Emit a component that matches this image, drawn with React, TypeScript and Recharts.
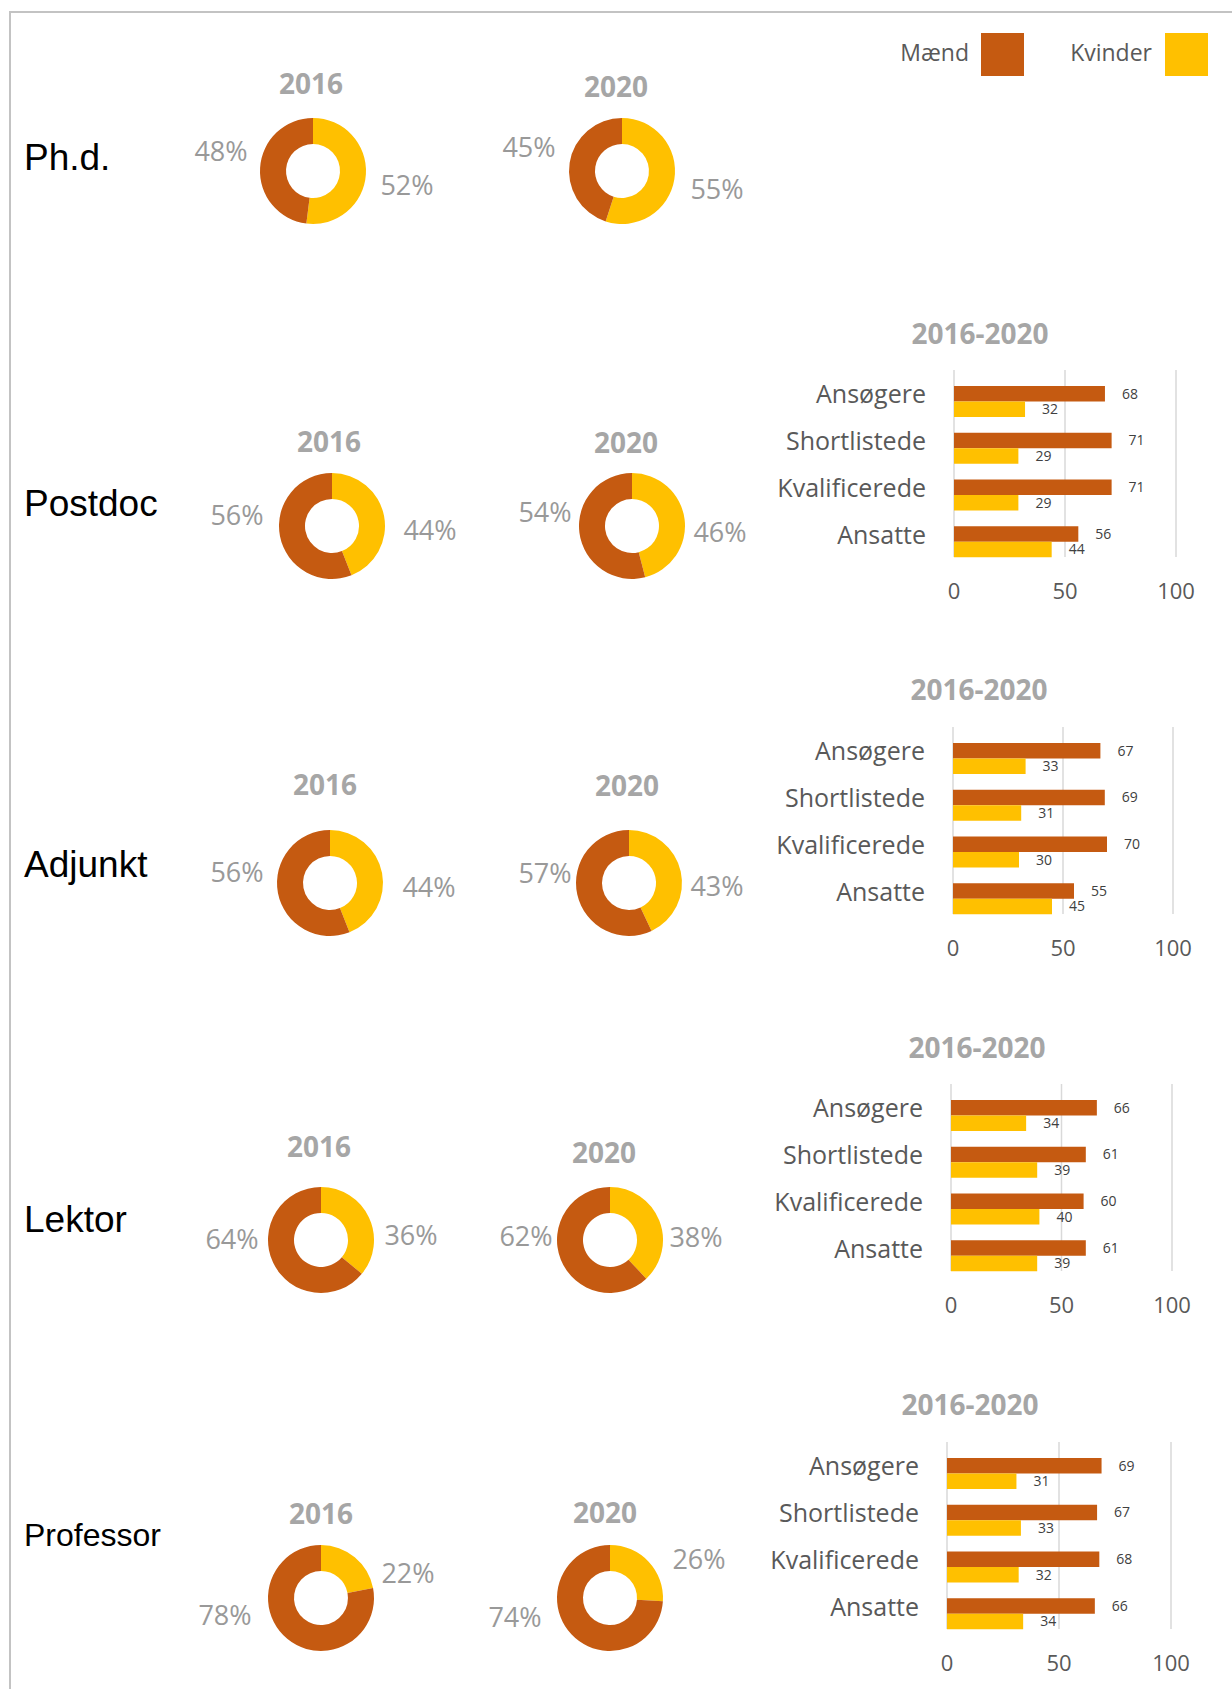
import { PieChart, Pie, Cell, BarChart, Bar, XAxis, YAxis, CartesianGrid, LabelList } from "recharts";

const MEN = "#C55A11";
const WOMEN = "#FFC000";
const FONT = "'Open Sans', 'Noto Sans', sans-serif";

// ---- data ----
const positions = ["Ph.d.", "Postdoc", "Adjunkt", "Lektor", "Professor"];
const years = ["2016", "2020"];
const men2016 = [48, 56, 56, 64, 78];
const women2016 = [52, 44, 44, 36, 22];
const men2020 = [45, 54, 57, 62, 74];
const women2020 = [55, 46, 43, 38, 26];

const stages = ["Ansøgere", "Shortlistede", "Kvalificerede", "Ansatte"];
const postdocMen = [68, 71, 71, 56];
const postdocWomen = [32, 29, 29, 44];
const adjunktMen = [67, 69, 70, 55];
const adjunktWomen = [33, 31, 30, 45];
const lektorMen = [66, 61, 60, 61];
const lektorWomen = [34, 39, 40, 39];
const professorMen = [69, 67, 68, 66];
const professorWomen = [31, 33, 32, 34];
const xTicks = [0, 50, 100];
const periodTitle = "2016-2020";

// ---- layout (pixel positions on the page) ----
const rowLabelLayout = [
  { y: 157, size: 37 },
  { y: 503, size: 37 },
  { y: 864, size: 37 },
  { y: 1219, size: 37 },
  { y: 1535, size: 32 },
];

const donutLayout = [
  [
    { cx: 312.5, cy: 171, tx: 311, ty: 83, men: [-92, -21], women: [94, 13] },
    { cx: 621.5, cy: 171, tx: 616, ty: 86, men: [-93, -25], women: [95, 17] },
  ],
  [
    { cx: 331.5, cy: 526, tx: 329, ty: 441, men: [-95, -12], women: [98, 3] },
    { cx: 632, cy: 526, tx: 626, ty: 442, men: [-87, -15], women: [88, 5] },
  ],
  [
    { cx: 329.5, cy: 883, tx: 325, ty: 784, men: [-93, -12], women: [99, 3] },
    { cx: 629, cy: 883, tx: 627, ty: 785, men: [-84, -11], women: [88, 2] },
  ],
  [
    { cx: 321, cy: 1240, tx: 319, ty: 1146, men: [-89, -2], women: [90, -6] },
    { cx: 610, cy: 1240, tx: 604, ty: 1152, men: [-84, -5], women: [86, -4] },
  ],
  [
    { cx: 320.5, cy: 1598, tx: 321, ty: 1513, men: [-96, 16], women: [87, -26] },
    { cx: 610, cy: 1598, tx: 605, ty: 1512, men: [-95, 18], women: [89, -40] },
  ],
];

const barLayout = [
  { gridTop: 370, x0: 954, x100: 1176, tx: 980, ty: 333 },
  { gridTop: 727, x0: 953, x100: 1173, tx: 979, ty: 689 },
  { gridTop: 1084, x0: 951, x100: 1172, tx: 977, ty: 1047 },
  { gridTop: 1442, x0: 947, x100: 1171, tx: 970, ty: 1404 },
];

const barSeries = [
  { men: postdocMen, women: postdocWomen },
  { men: adjunktMen, women: adjunktWomen },
  { men: lektorMen, women: lektorWomen },
  { men: professorMen, women: professorWomen },
];

const Title = ({ x, y, text }: { x: number; y: number; text: string }) => (
  <div
    style={{
      position: "absolute",
      left: x,
      top: y,
      transform: "translate(-50%, -50%)",
      fontFamily: FONT,
      fontWeight: 700,
      fontSize: 28,
      lineHeight: 1,
      color: "#A6A6A6",
      whiteSpace: "nowrap",
    }}
  >
    {text}
  </div>
);

const Donut = ({ men, women, lay }: { men: number; women: number; lay: any }) => {
  const W = 300;
  const H = 170;
  const data = [
    { name: "Kvinder", value: women },
    { name: "Mænd", value: men },
  ];
  const renderLabel = (p: any) => {
    const off = p.index === 0 ? lay.women : lay.men;
    return (
      <text
        x={W / 2 + off[0]}
        y={H / 2 + off[1]}
        textAnchor="middle"
        dominantBaseline="central"
        fill="#999999"
        fontSize={27}
        fontFamily={FONT}
      >
        {p.value}%
      </text>
    );
  };
  return (
    <div style={{ position: "absolute", left: lay.cx - W / 2, top: lay.cy - H / 2 }}>
      <PieChart width={W} height={H} margin={{ top: 0, right: 0, bottom: 0, left: 0 }}>
        <Pie
          data={data}
          dataKey="value"
          cx={W / 2}
          cy={H / 2}
          innerRadius={27}
          outerRadius={53}
          startAngle={90}
          endAngle={-270}
          stroke="none"
          labelLine={false}
          label={renderLabel}
          isAnimationActive={false}
        >
          <Cell fill={WOMEN} />
          <Cell fill={MEN} />
        </Pie>
      </PieChart>
    </div>
  );
};

const YTick = ({ x, y, payload }: any) => (
  <text x={x - 26} y={y - 8} textAnchor="end" dominantBaseline="central" fill="#595959" fontSize={25} fontFamily={FONT}>
    {payload.value}
  </text>
);

const XTick = ({ x, y, payload }: any) => (
  <text x={x} y={y + 23} textAnchor="middle" dominantBaseline="central" fill="#595959" fontSize={22} fontFamily={FONT}>
    {payload.value}
  </text>
);

const StageBars = ({ men, women, lay }: { men: number[]; women: number[]; lay: any }) => {
  const data = stages.map((s, i) => ({ stage: s, Mænd: men[i], Kvinder: women[i] }));
  const left = 700;
  const axisW = lay.x0 - left;
  const plotW = lay.x100 - lay.x0;
  const topPad = 28;
  const plotH = 187;
  const width = axisW + plotW + 60;
  const height = topPad + plotH + 50;
  return (
    <div style={{ position: "absolute", left, top: lay.gridTop - 20, fontFamily: FONT }}>
      <BarChart
        width={width}
        height={height}
        data={data}
        layout="vertical"
        margin={{ top: topPad, right: 60, bottom: 0, left: 0 }}
        barGap={0}
        barSize={15.5}
      >
        <CartesianGrid vertical horizontal={false} y={20} height={plotH} stroke="#D9D9D9" strokeWidth={1.5} />
        <XAxis
          type="number"
          domain={[0, 100]}
          ticks={xTicks}
          axisLine={false}
          tickLine={false}
          tickSize={0}
          height={50}
          tick={<XTick />}
        />
        <YAxis
          type="category"
          dataKey="stage"
          width={axisW}
          axisLine={false}
          tickLine={false}
          tickSize={0}
          tick={<YTick />}
        />
        <Bar dataKey="Mænd" fill={MEN} isAnimationActive={false}>
          <LabelList dataKey="Mænd" position="right" offset={17} fill="#404040" fontSize={14} />
        </Bar>
        <Bar dataKey="Kvinder" fill={WOMEN} isAnimationActive={false}>
          <LabelList dataKey="Kvinder" position="right" offset={17} fill="#404040" fontSize={14} />
        </Bar>
      </BarChart>
    </div>
  );
};

const LegendItem = ({ label, color, textRight, boxLeft }: any) => (
  <>
    <div
      style={{
        position: "absolute",
        right: 1232 - textRight,
        top: 52,
        transform: "translateY(-50%)",
        fontFamily: FONT,
        fontSize: 23,
        lineHeight: 1,
        color: "#595959",
      }}
    >
      {label}
    </div>
    <div style={{ position: "absolute", left: boxLeft, top: 33, width: 43, height: 43, background: color }} />
  </>
);

export default function App() {
  const donutMen = [men2016, men2020];
  const donutWomen = [women2016, women2020];
  return (
    <div
      style={{
        position: "absolute",
        left: 0,
        top: 0,
        width: 1232,
        height: 1689,
        background: "#fff",
        overflow: "hidden",
      }}
    >
      <div
        style={{
          position: "absolute",
          left: 9,
          top: 11,
          width: 1300,
          height: 1800,
          borderTop: "2px solid #C3C3C3",
          borderLeft: "2px solid #C3C3C3",
        }}
      />
      <LegendItem label="Mænd" color={MEN} textRight={969} boxLeft={981} />
      <LegendItem label="Kvinder" color={WOMEN} textRight={1152} boxLeft={1165} />

      {positions.map((p, r) => (
        <div
          key={p}
          style={{
            position: "absolute",
            left: 24,
            top: rowLabelLayout[r].y,
            transform: "translateY(-50%)",
            fontFamily: "'Liberation Sans', Arial, sans-serif",
            fontSize: rowLabelLayout[r].size,
            lineHeight: 1,
            color: "#000",
          }}
        >
          {p}
        </div>
      ))}

      {positions.map((p, r) =>
        years.map((yr, k) => {
          const lay = donutLayout[r][k];
          return (
            <div key={p + yr}>
              <Title x={lay.tx} y={lay.ty} text={yr} />
              <Donut men={donutMen[k][r]} women={donutWomen[k][r]} lay={lay} />
            </div>
          );
        })
      )}

      {barSeries.map((s, i) => (
        <div key={i}>
          <Title x={barLayout[i].tx} y={barLayout[i].ty} text={periodTitle} />
          <StageBars men={s.men} women={s.women} lay={barLayout[i]} />
        </div>
      ))}
    </div>
  );
}
